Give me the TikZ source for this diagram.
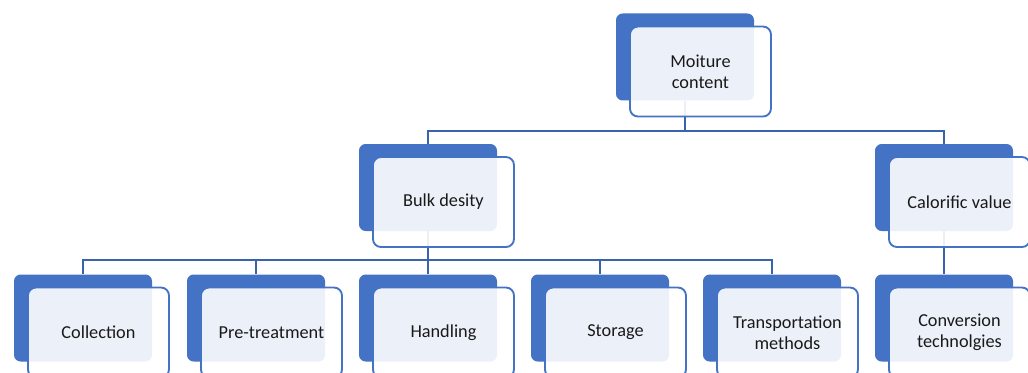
\documentclass[tikz,border=0pt]{standalone}
\usepackage{fontspec}
\setmainfont{Carlito}
\usetikzlibrary{backgrounds}
\definecolor{boxblue}{HTML}{4472C4}
\definecolor{linkblue}{HTML}{3A63AD}
\begin{document}
\begin{tikzpicture}[x=0.75pt,y=0.75pt,line join=round,
    back/.style={fill=boxblue,rounded corners=5pt,minimum width=103.5pt,minimum height=65.25pt,inner sep=0pt},
    front/.style={draw=boxblue,line width=1.4pt,fill=white,fill opacity=0.9,text opacity=1,text=black!90,
      rounded corners=6pt,minimum width=105.75pt,minimum height=67.5pt,inner sep=0pt,align=center,
      xshift=11.6pt,yshift=-10.9pt,font=\fontsize{13.7}{15.5}\selectfont},
    link/.style={draw=linkblue,line width=1.5pt}]
    \useasboundingbox (0,0) rectangle (1028,372);
    \clip (0,0) rectangle (1028,372);
    \node[back] (mcB) at (685,315) {};
    \node[front] (mcF) at (mcB) {Moiture\\content};
    \node[back] (bdB) at (428,184.5) {};
    \node[front] (bdF) at (bdB) {Bulk desity};
    \node[back] (cvB) at (944,184.5) {};
    \node[front] (cvF) at (cvB) {Calorific value};
    \foreach \x/\name/\txt in {83/co/Collection,256/pt/Pre-treatment,428/ha/Handling,600/st/Storage,772/tm/{Transportation\\methods},944/ct/{Conversion\\technolgies}}{
        \node[back] (\name B) at (\x,54) {};
        \node[front] (\name F) at (\name B) {\txt};
    }
    \begin{scope}[on background layer]
        \draw[link] (mcB.south) -- ++(0,-30) -| (bdB.north);
        \draw[link] (mcB.south) -- ++(0,-30) -| (cvB.north);
        \draw[link] (cvB.south) -- (ctB.north);
        \foreach \name in {co,pt,ha,st,tm}
        \draw[link] (bdB.south) -- ++(0,-29) -| (\name B.north);
    \end{scope}
\end{tikzpicture}
\end{document}
